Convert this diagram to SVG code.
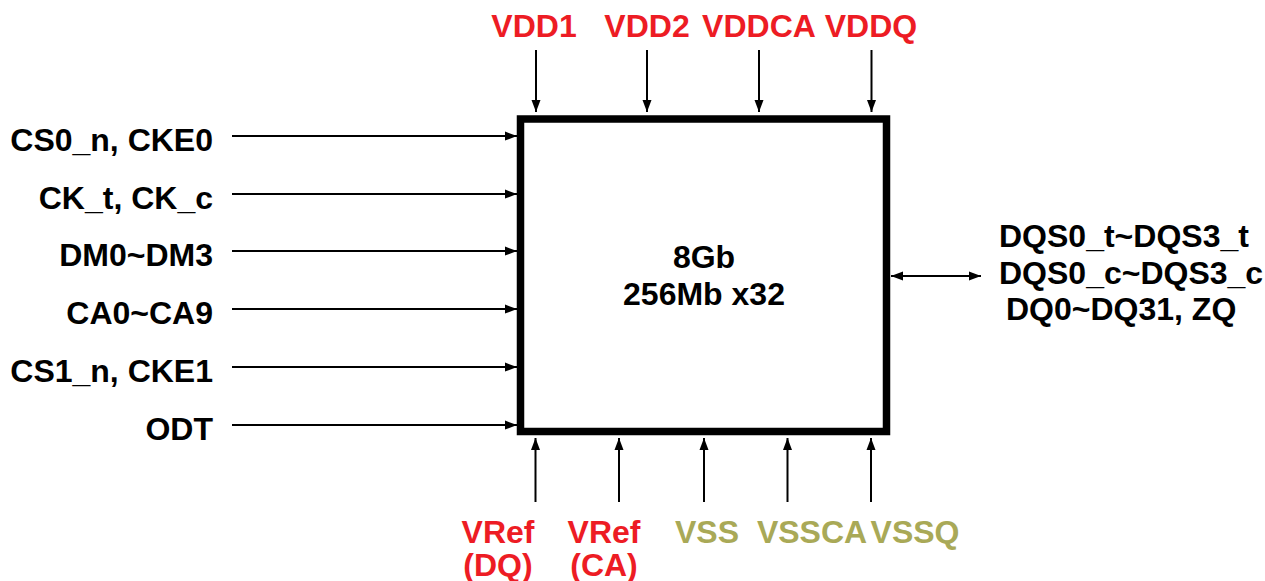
<svg xmlns="http://www.w3.org/2000/svg" width="1265" height="581" viewBox="0 0 1265 581">
<style>
text{font-family:"Liberation Sans",Arial,sans-serif;font-weight:bold;font-size:32px;fill:#000}
.red{fill:#ED1C24}
.grn{fill:#A9A957}
.c{text-anchor:middle}
.r{text-anchor:end}
.w{stroke:#000;stroke-width:2;fill:none}
</style>
<defs>
<marker id="ah" markerUnits="userSpaceOnUse" markerWidth="12" markerHeight="12" viewBox="0 0 12 12" refX="12" refY="6" orient="auto-start-reverse">
<path d="M0,1.5 L12,6 L0,10.5 Z" fill="#000"/>
</marker>
</defs>
<rect width="1265" height="581" fill="#fff"/>
<g id="chip">
<rect x="520.5" y="119" width="366" height="312.5" fill="#fff" stroke="#000" stroke-width="7.5"/>
<text class="c" x="704" y="268">8Gb</text>
<text class="c" x="704" y="305">256Mb x32</text>
</g>
<g id="connectors">
<line class="w" x1="536" y1="50" x2="536" y2="112" marker-end="url(#ah)"/>
<line class="w" x1="647" y1="50" x2="647" y2="112" marker-end="url(#ah)"/>
<line class="w" x1="759" y1="50" x2="759" y2="112" marker-end="url(#ah)"/>
<line class="w" x1="871.5" y1="50" x2="871.5" y2="112" marker-end="url(#ah)"/>
<line class="w" x1="232" y1="136" x2="517" y2="136" marker-end="url(#ah)"/>
<line class="w" x1="232" y1="194" x2="517" y2="194" marker-end="url(#ah)"/>
<line class="w" x1="232" y1="251" x2="517" y2="251" marker-end="url(#ah)"/>
<line class="w" x1="232" y1="309" x2="517" y2="309" marker-end="url(#ah)"/>
<line class="w" x1="232" y1="367" x2="517" y2="367" marker-end="url(#ah)"/>
<line class="w" x1="232" y1="425" x2="517" y2="425" marker-end="url(#ah)"/>
<line class="w" x1="535.5" y1="502" x2="535.5" y2="438" marker-end="url(#ah)"/>
<line class="w" x1="619" y1="502" x2="619" y2="438" marker-end="url(#ah)"/>
<line class="w" x1="704" y1="502" x2="704" y2="438" marker-end="url(#ah)"/>
<line class="w" x1="787.5" y1="502" x2="787.5" y2="438" marker-end="url(#ah)"/>
<line class="w" x1="871" y1="502" x2="871" y2="438" marker-end="url(#ah)"/>
<line class="w" x1="891" y1="276" x2="981" y2="276" marker-start="url(#ah)" marker-end="url(#ah)"/>
</g>
<g id="top-labels">
<text class="red c" x="534" y="37">VDD1</text>
<text class="red c" x="647" y="37">VDD2</text>
<text class="red c" x="759" y="37">VDDCA</text>
<text class="red c" x="871" y="37">VDDQ</text>
</g>
<g id="left-labels">
<text class="r" x="213" y="151">CS0_n, CKE0</text>
<text class="r" x="213" y="209">CK_t, CK_c</text>
<text class="r" x="213" y="266">DM0~DM3</text>
<text class="r" x="213" y="324">CA0~CA9</text>
<text class="r" x="213" y="382">CS1_n, CKE1</text>
<text class="r" x="213" y="440">ODT</text>
</g>
<g id="bottom-labels">
<text class="red c" x="498" y="543">VRef</text>
<text class="red c" x="498" y="576">(DQ)</text>
<text class="red c" x="604" y="543">VRef</text>
<text class="red c" x="604" y="576">(CA)</text>
<text class="grn c" x="707" y="543">VSS</text>
<text class="grn c" x="812" y="543">VSSCA</text>
<text class="grn c" x="915" y="543">VSSQ</text>
</g>
<g id="right-labels">
<text x="999" y="247">DQS0_t~DQS3_t</text>
<text x="999" y="284">DQS0_c~DQS3_c</text>
<text x="1006" y="320">DQ0~DQ31, ZQ</text>
</g>
</svg>
